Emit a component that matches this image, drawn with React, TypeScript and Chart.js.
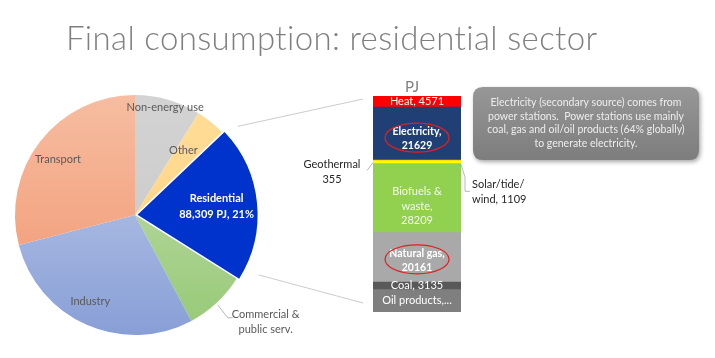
import React, { useEffect, useRef } from "react";
import { Chart, registerables } from "chart.js";

Chart.register(...registerables);

// ---------- data ----------
const titleText = "Final consumption: residential sector";

const sectorLabels = ["Non-energy use", "Other", "Residential", "Commercial & public serv.", "Industry", "Transport"];
const sectorValues = [37300, 16900, 88309, 34800, 120800, 121900];

const sourceLabels = ["Oil products", "Coal", "Natural gas", "Biofuels & waste", "Solar/tide/wind", "Geothermal", "Electricity", "Heat"];
const sourceValues = [9140, 3135, 20161, 28209, 1109, 355, 21629, 4571];

const unitLabel = "PJ";

const noteLines = [
  "Electricity (secondary source) comes from",
  "power stations.  Power stations use mainly",
  "coal, gas and oil/oil products (64% globally)",
  "to generate electricity.",
];

// ---------- styles ----------
const W = 715;
const H = 358;
const FONT = "Lato, 'Open Sans', sans-serif";
const PIE_R = 120;

const pieFills: string[][] = [
  ["#D3D3D3", "#C7C7C7"],
  ["#FFDD98", "#FFD07C"],
  ["#0033CC", "#0033CC"],
  ["#C6DFB4", "#96C975"],
  ["#C4CEEC", "#889FD6"],
  ["#F6BDA0", "#F1956F"],
];
const pieOffsets = [0, 0, 10, 0, 0, 0];
// [angle fraction within slice, radius fraction]
const pieLabelPos: (number[] | null)[] = [[0.49, 0.93], [0.35, 0.67], [0.5, 0.6], null, [0.535, 0.81], [0.48, 0.79]];

const barColors = ["#7F7F7F", "#595959", "#A9A9A9", "#92D050", "#FFFF00", "#FFC000", "#203F74", "#FF0000"];

const fmt = (v: number) => v.toLocaleString("en-US");

function pieLabelLines(i: number, total: number): string[] {
  const name = sectorLabels[i];
  if (i === 2) return [name, `${fmt(sectorValues[i])} PJ, ${Math.round((sectorValues[i] / total) * 100)}%`];
  if (i === 3) return ["Commercial &", "public serv."];
  return [name];
}

function barLabelLines(i: number): string[] {
  const name = sourceLabels[i];
  const v = String(sourceValues[i]);
  switch (i) {
    case 0: return [`${name},...`];
    case 2: return [`${name},`, v];
    case 3: return ["Biofuels &", "waste,", v];
    case 4: return ["Solar/tide/", `wind, ${v}`];
    case 5: return [name, v];
    case 6: return [`${name},`, v];
    default: return [`${name}, ${v}`];
  }
}
const barLabelBold = [false, false, true, false, false, false, true, false];
const barLabelColor = ["#FFFFFF", "#FFFFFF", "#FFFFFF", "rgba(255,255,255,0.88)", "#262626", "#262626", "#FFFFFF", "#FFFFFF"];
const barLabelDy = [0, 0, 3, 8, 0, 0, 5, 0];
const barCircled = [false, false, true, false, false, false, true, false];

function roundRect(c: CanvasRenderingContext2D, x: number, y: number, w: number, h: number, r: number) {
  c.beginPath();
  c.moveTo(x + r, y);
  c.lineTo(x + w - r, y);
  c.quadraticCurveTo(x + w, y, x + w, y + r);
  c.lineTo(x + w, y + h - r);
  c.quadraticCurveTo(x + w, y + h, x + w - r, y + h);
  c.lineTo(x + r, y + h);
  c.quadraticCurveTo(x, y + h, x, y + h - r);
  c.lineTo(x, y + r);
  c.quadraticCurveTo(x, y, x + r, y);
  c.closePath();
}

const pieDecor = {
  id: "pieDecor",
  afterDraw(chart: any) {
    const c: any = chart.ctx;
    c.save();
    // title
    c.fillStyle = "#7F7F7F";
    c.font = `300 33px ${FONT}`;
    c.textAlign = "left";
    c.textBaseline = "alphabetic";
    if ("letterSpacing" in c) c.letterSpacing = "0.35px";
    c.fillText(titleText, 66, 50);
    if ("letterSpacing" in c) c.letterSpacing = "0px";

    const total = sectorValues.reduce((a, b) => a + b, 0);
    const meta = chart.getDatasetMeta(0);
    meta.data.forEach((arc: any, i: number) => {
      const p = arc.getProps(["x", "y", "startAngle", "endAngle", "outerRadius"], true);
      const off = arc.options.offset || 0;
      const mid = (p.startAngle + p.endAngle) / 2;
      const cx = p.x + Math.cos(mid) * off;
      const cy = p.y + Math.sin(mid) * off;
      const lines = pieLabelLines(i, total);
      const pos = pieLabelPos[i];
      c.textAlign = "center";
      c.textBaseline = "middle";
      if (pos) {
        const a = p.startAngle + (p.endAngle - p.startAngle) * pos[0];
        const r = p.outerRadius * pos[1];
        const x = cx + Math.cos(a) * r;
        const y = cy + Math.sin(a) * r;
        if (i === 2) {
          c.fillStyle = "#FFFFFF";
          c.font = `bold 11px ${FONT}`;
          c.fillText(lines[0], x, y - 8);
          c.fillText(lines[1], x, y + 8);
        } else {
          c.fillStyle = "#595959";
          c.font = `11px ${FONT}`;
          c.fillText(lines[0], x, y);
        }
      } else {
        // outside label with leader line
        const a = p.startAngle + (p.endAngle - p.startAngle) * 0.51;
        const r = p.outerRadius + 2;
        const x0 = cx + Math.cos(a) * r;
        const y0 = cy + Math.sin(a) * r;
        const x1 = x0 + 10, y1 = y0 + 13;
        const x2 = x1 + 5;
        c.strokeStyle = "#A6A6A6";
        c.lineWidth = 0.8;
        c.beginPath();
        c.moveTo(x0, y0);
        c.lineTo(x1, y1);
        c.lineTo(x2, y1);
        c.stroke();
        c.fillStyle = "#595959";
        c.font = `11px ${FONT}`;
        c.fillText(lines[0], x2 + 33, y1 - 3);
        c.fillText(lines[1], x2 + 33, y1 + 12);
      }
    });

    // callout box
    const bx = 473, by = 87, bw = 226, bh = 73;
    c.save();
    c.shadowColor = "rgba(0,0,0,0.35)";
    c.shadowBlur = 4;
    c.shadowOffsetX = 1.5;
    c.shadowOffsetY = 2;
    const g = c.createLinearGradient(0, by, 0, by + bh);
    g.addColorStop(0, "#979797");
    g.addColorStop(1, "#7D7D7D");
    c.fillStyle = g;
    roundRect(c, bx, by, bw, bh, 10);
    c.fill();
    c.restore();
    c.fillStyle = "#EDEDED";
    c.font = `10.5px ${FONT}`;
    c.textAlign = "center";
    c.textBaseline = "middle";
    noteLines.forEach((t, k) => c.fillText(t, bx + bw / 2, by + 16 + k * 13.5));
    c.restore();
  },
};

function makeBarDecor(pieChart: any) {
  return {
    id: "barDecor",
    beforeDatasetsDraw(chart: any) {
      const c: CanvasRenderingContext2D = chart.ctx;
      const area = chart.chartArea;
      const arc = pieChart.getDatasetMeta(0).data[2];
      const p = arc.getProps(["x", "y", "startAngle", "endAngle", "outerRadius"], true);
      const off = arc.options.offset || 0;
      const mid = (p.startAngle + p.endAngle) / 2;
      const cx = p.x + Math.cos(mid) * off;
      const cy = p.y + Math.sin(mid) * off;
      const sx1 = cx + Math.cos(p.startAngle) * p.outerRadius + 6;
      const sy1 = cy + Math.sin(p.startAngle) * p.outerRadius - 5;
      const sx2 = cx + Math.cos(p.endAngle) * p.outerRadius + 12;
      const sy2 = cy + Math.sin(p.endAngle) * p.outerRadius - 3;
      c.save();
      c.strokeStyle = "#BFBFBF";
      c.lineWidth = 0.8;
      c.beginPath();
      c.moveTo(sx1, sy1);
      c.lineTo(area.left - 10, area.top + 3);
      c.moveTo(sx2, sy2);
      c.lineTo(area.left - 10, area.bottom - 9);
      c.stroke();
      // unit label
      c.fillStyle = "#7F7F7F";
      c.font = `15px ${FONT}`;
      c.textAlign = "center";
      c.textBaseline = "middle";
      c.fillText(unitLabel, (area.left + area.right) / 2 - 5, area.top - 9);
      c.restore();
    },
    afterDatasetsDraw(chart: any) {
      const c: CanvasRenderingContext2D = chart.ctx;
      c.save();
      c.textBaseline = "middle";
      sourceLabels.forEach((_, i) => {
        const el = chart.getDatasetMeta(i).data[0];
        const pr = el.getProps(["x", "y", "base", "width"], true);
        const left = pr.x - pr.width / 2;
        const right = pr.x + pr.width / 2;
        const midY = (pr.y + pr.base) / 2;
        const lines = barLabelLines(i);
        c.fillStyle = barLabelColor[i];
        c.font = barLabelBold[i] ? `bold 10.5px ${FONT}` : `11px ${FONT}`;
        if (i === 5) {
          // geothermal, outside left
          c.strokeStyle = "#A6A6A6";
          c.lineWidth = 0.8;
          c.beginPath();
          c.moveTo(left, midY + 2);
          c.lineTo(left - 6, midY + 10);
          c.stroke();
          c.textAlign = "center";
          c.font = `11px ${FONT}`;
          c.fillText(lines[0], left - 41, midY + 4);
          c.fillText(lines[1], left - 41, midY + 19);
          return;
        }
        if (i === 4) {
          // solar, outside right
          c.strokeStyle = "#A6A6A6";
          c.lineWidth = 0.8;
          c.beginPath();
          c.moveTo(right, midY + 2);
          c.lineTo(right + 4, midY + 15);
          c.lineTo(right + 4, midY + 29);
          c.lineTo(right + 9, midY + 29);
          c.stroke();
          c.textAlign = "left";
          c.font = `11px ${FONT}`;
          c.fillText(lines[0], right + 11, midY + 22);
          c.fillText(lines[1], right + 11, midY + 37);
          return;
        }
        c.textAlign = "center";
        const lh = 14.3;
        const cy = midY + barLabelDy[i];
        const y0 = cy - ((lines.length - 1) * lh) / 2;
        lines.forEach((t, k) => c.fillText(t, pr.x, y0 + k * lh));
        if (barCircled[i]) {
          c.strokeStyle = "#E02020";
          c.lineWidth = 1.2;
          c.beginPath();
          c.ellipse(pr.x, cy - 1, 32, 14.5, 0, 0, Math.PI * 2);
          c.stroke();
        }
      });
      c.restore();
    },
  };
}

export default function App() {
  const pieRef = useRef<HTMLCanvasElement>(null);
  const barRef = useRef<HTMLCanvasElement>(null);

  useEffect(() => {
    const pie = new Chart(pieRef.current as HTMLCanvasElement, {
      type: "pie",
      data: {
        labels: sectorLabels,
        datasets: [
          {
            data: sectorValues,
            backgroundColor: (ctx: any) => {
              const chart = ctx.chart;
              const area = chart.chartArea;
              const [a, b] = pieFills[ctx.dataIndex] || ["#ccc", "#ccc"];
              if (!area) return a;
              const cy = (area.top + area.bottom) / 2;
              const g = chart.ctx.createLinearGradient(0, cy - PIE_R, 0, cy + PIE_R);
              g.addColorStop(0, a);
              g.addColorStop(1, b);
              return g;
            },
            borderWidth: 0,
            offset: pieOffsets,
          } as any,
        ],
      },
      options: {
        responsive: false,
        animation: false,
        radius: PIE_R,
        layout: { padding: { left: 0, right: W - 270, top: 72, bottom: 0 } },
        plugins: { legend: { display: false }, tooltip: { enabled: false } },
        events: [],
      } as any,
      plugins: [pieDecor],
    });

    const total = sourceValues.reduce((a, b) => a + b, 0);
    const bar = new Chart(barRef.current as HTMLCanvasElement, {
      type: "bar",
      data: {
        labels: ["Residential"],
        datasets: sourceLabels.map((s, i) => ({
          label: s,
          data: [sourceValues[i]],
          backgroundColor: barColors[i],
          borderWidth: 0,
          barPercentage: 1,
          categoryPercentage: 1,
        })),
      },
      options: {
        responsive: false,
        animation: false,
        layout: { padding: { left: 373, right: W - 461, top: 96, bottom: H - 312 } },
        plugins: { legend: { display: false }, tooltip: { enabled: false } },
        events: [],
        scales: {
          x: { display: false, stacked: true },
          y: { display: false, stacked: true, min: 0, max: total },
        },
      } as any,
      plugins: [makeBarDecor(pie)],
    });

    return () => {
      bar.destroy();
      pie.destroy();
    };
  }, []);

  return (
    <div style={{ position: "absolute", left: 0, top: 0, width: W, height: H, background: "#FFFFFF" }}>
      <canvas ref={pieRef} width={W} height={H} style={{ position: "absolute", left: 0, top: 0 }} />
      <canvas ref={barRef} width={W} height={H} style={{ position: "absolute", left: 0, top: 0 }} />
    </div>
  );
}
